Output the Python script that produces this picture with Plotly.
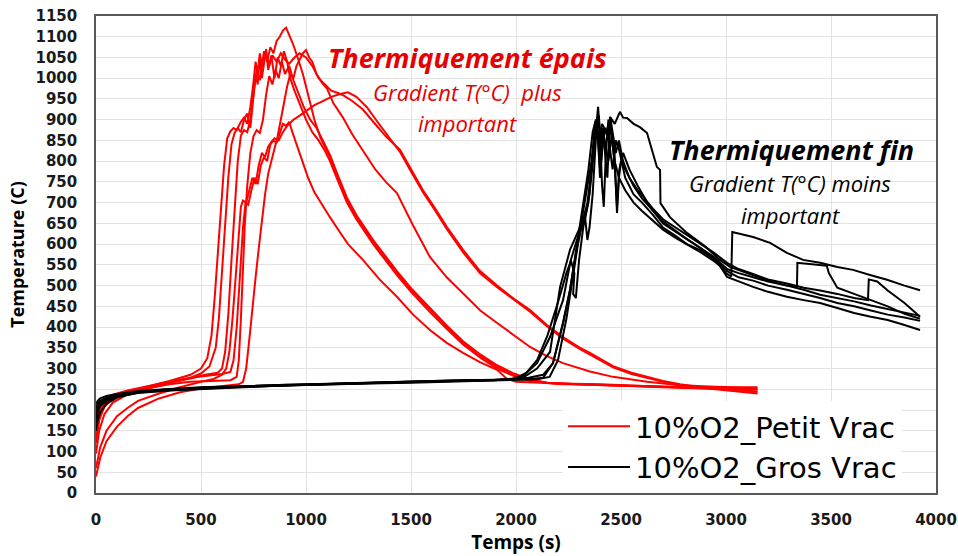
import plotly.graph_objects as go

# ---------------- data ----------------
x_ticks = [0, 500, 1000, 1500, 2000, 2500, 3000, 3500, 4000]
y_ticks = list(range(0, 1151, 50))

series_names = ["10%O2_Petit Vrac", "10%O2_Gros Vrac"]

# Petit Vrac (red) curves: (time s, temperature C)
petit_1 = [(0,120),(15,175),(40,210),(80,232),(150,245),(250,258),(350,270),(450,285),(500,300),(530,325),
           (550,380),(565,470),(580,580),(595,690),(610,790),(625,855),(640,872),(655,880),(670,875),(690,895),
           (705,905),(720,890),(735,930),(750,990),(760,1040),(770,1010),(780,1060),(790,1030),(800,1065),
           (815,1040),(830,1075),(845,1060),(860,1090),(875,1100),(890,1115),(905,1122),(920,1105),(940,1080),
           (960,1050),(985,1010),(1010,960),(1040,900),(1070,855),(1100,825),(1114,810),(1150,760),(1195,706),
           (1240,665),(1271,641),(1320,605),(1380,565),(1433,530),(1500,490),(1590,441),(1670,400),(1748,362),
           (1830,330),(1910,304),(1990,285),(2067,272),(2150,265),(2300,262),(2500,258),(2700,255),(2900,252),
           (3150,250)]
petit_2 = [(0,95),(15,150),(40,190),(80,218),(150,238),(250,252),(350,265),(450,278),(500,288),(540,305),
           (570,350),(585,420),(600,530),(615,650),(630,760),(645,840),(660,868),(675,880),(690,870),(705,900),
           (720,915),(735,880),(750,960),(760,1010),(770,985),(780,1050),(790,1000),(800,1040),(810,1070),
           (820,1020),(835,1055),(850,1000),(865,1050),(880,1030),(895,1065),(910,1040),(925,1000),(945,970),
           (970,940),(1000,900),(1030,870),(1060,850),(1090,825),(1114,800),(1150,755),(1195,700),(1240,660),
           (1271,636),(1320,600),(1380,560),(1433,525),(1500,485),(1590,436),(1670,396),(1748,358),(1830,326),
           (1910,300),(1990,282),(2067,270),(2200,263),(2400,260),(2600,257),(2800,254),(3000,252),(3150,251)]
petit_3 = [(0,150),(15,190),(40,215),(80,232),(150,243),(250,255),(350,266),(450,276),(520,285),(580,290),
           (600,300),(615,340),(630,430),(645,560),(660,690),(675,800),(690,862),(705,875),(720,870),(735,900),
           (750,960),(765,1020),(780,995),(795,1045),(810,1060),(825,1030),(840,1055),(860,1040),(880,1060),
           (900,1045),(920,1035),(945,1050),(970,1060),(1000,1050),(1030,1030),(1060,1000),(1090,985),
           (1120,970),(1150,965),(1180,958),(1220,945),(1270,925),(1320,895),(1380,860),(1448,827),(1500,780),
           (1557,730),(1610,690),(1671,641),(1748,586),(1829,535),(1910,500),(1990,468),(2067,441),(2147,405),
           (2224,376),(2305,350),(2352,338),(2462,306),(2550,290),(2624,280),(2700,270),(2781,262),(2950,250),
           (3150,240)]
petit_4 = [(0,60),(20,110),(50,150),(100,185),(150,205),(200,222),(300,240),(400,255),(500,268),(560,275),
           (600,285),(620,300),(635,340),(650,420),(665,520),(680,620),(690,690),(700,705),(715,700),(730,730),
           (745,760),(760,745),(775,790),(790,820),(805,810),(820,835),(840,850),(860,845),(875,870),(890,890),
           (905,885),(920,895),(935,870),(955,840),(980,800),(1010,760),(1040,725),(1075,695),(1114,665),
           (1160,630),(1200,600),(1271,562),(1350,515),(1433,473),(1510,430),(1590,393),(1670,362),(1748,338),
           (1830,315),(1910,297),(1957,275),(2000,268),(2200,264),(2400,262),(2600,258),(2800,255),(3000,250),
           (3150,245)]
petit_5 = [(0,170),(15,200),(40,222),(80,237),(150,247),(250,258),(350,268),(450,278),(520,283),(600,287),
           (640,292),(655,320),(670,400),(685,520),(700,640),(712,700),(725,695),(740,730),(755,760),(770,745),
           (785,790),(800,810),(815,800),(830,840),(850,855),(870,850),(890,870),(910,885),(940,900),(970,910),
           (1000,920),(1040,935),(1080,945),(1120,955),(1162,962),(1200,966),(1240,955),(1290,930),(1340,895),
           (1400,855),(1448,822),(1500,775),(1557,725),(1610,685),(1671,636),(1748,580),(1829,530),(1910,496),
           (1990,465),(2067,437),(2147,402),(2224,372),(2305,347),(2352,334),(2462,303),(2550,287),(2624,277),
           (2700,268),(2781,260),(2950,252),(3150,244)]
petit_6 = [(0,40),(20,85),(50,125),(100,160),(150,185),(200,205),(300,228),(400,243),(500,252),(600,258),
           (680,262),(700,268),(715,300),(730,370),(745,450),(760,520),(775,590),(790,660),(805,720),(820,770),
           (835,800),(850,830),(865,860),(880,900),(895,940),(910,980),(925,1010),(940,1000),(955,1030),
           (970,1045),(985,1060),(1000,1068),(1015,1050),(1030,1040),(1050,1010),(1075,990),(1100,975),
           (1130,940),(1176,905),(1220,865),(1271,827),(1330,780),(1380,750),(1433,723),(1510,645),(1590,569),
           (1670,520),(1748,482),(1830,440),(1910,410),(1990,380),(2067,352),(2147,330),(2224,313),(2352,293),
           (2462,280),(2624,268),(2781,260),(2950,256),(3148,253)]
petit_7 = [(0,130),(15,180),(40,208),(80,228),(150,241),(250,253),(350,262),(450,268),(550,270),(640,272),
           (670,280),(680,320),(690,420),(698,530),(708,640),(720,740),(735,820),(750,860),(765,875),(780,868),
           (795,900),(810,960),(825,1005),(840,985),(855,1020),(870,1000),(885,1040),(900,1010),(920,1030),
           (940,995),(965,960),(990,930),(1020,900),(1050,880),(1080,850),(1114,815),(1150,768),(1195,712),
           (1240,670),(1271,646),(1320,610),(1380,570),(1433,535),(1500,494),(1590,446),(1670,404),(1748,366),
           (1830,334),(1910,308),(1990,288),(2067,274),(2150,266),(2300,262),(2500,259),(2700,256),(2900,254),
           (3150,255)]

# Gros Vrac (black) curves
gros_1 = [(0,150),(8,175),(20,195),(50,215),(100,230),(200,242),(350,248),(500,252),(700,256),(900,259),
          (1100,262),(1300,264),(1500,267),(1700,270),(1900,272),(1980,275),(2040,285),(2100,313),(2162,376),
          (2224,465),(2260,560),(2290,610),(2329,665),(2350,720),(2367,803),(2386,907),(2391,931),(2400,860),
          (2410,740),(2418,690),(2428,820),(2440,900),(2455,860),(2470,800),(2490,760),(2520,730),(2560,700),
          (2600,680),(2653,655),(2700,635),(2760,615),(2814,600),(2880,580),(2940,560),(2971,548),(3005,521),
          (3060,510),(3129,497),(3200,485),(3290,473),(3370,465),(3448,458),(3530,446),(3610,434),(3690,425),
          (3770,417),(3850,405),(3924,393)]
gros_2 = [(0,205),(8,215),(20,222),(50,230),(100,236),(200,244),(350,250),(500,254),(700,257),(900,261),
          (1100,263),(1300,266),(1500,268),(1700,271),(1900,273),(1990,274),(2050,290),(2100,320),(2150,380),
          (2200,460),(2240,530),(2262,560),(2278,530),(2272,480),(2285,470),(2300,560),(2320,640),(2345,700),
          (2360,790),(2372,870),(2382,900),(2392,840),(2400,760),(2410,830),(2425,880),(2440,850),(2448,907),
          (2460,850),(2470,790),(2481,690),(2492,780),(2510,820),(2540,780),(2580,740),(2620,705),(2653,680),
          (2700,655),(2760,632),(2814,612),(2880,590),(2940,565),(3000,530),(3025,522),(3030,629),(3060,625),
          (3129,617),(3210,603),(3290,579),(3367,562),(3448,555),(3530,545),(3605,538),(3690,525),(3767,514),
          (3850,500),(3924,489)]
gros_3 = [(0,185),(8,205),(20,215),(50,226),(100,234),(200,243),(350,249),(500,253),(700,257),(900,260),
          (1100,262),(1300,265),(1500,268),(1700,270),(1950,273),(2060,278),(2129,285),(2176,313),(2224,410),
          (2257,489),(2290,600),(2320,690),(2345,780),(2365,870),(2380,900),(2395,850),(2410,890),(2430,870),
          (2450,905),(2470,890),(2495,919),(2510,905),(2528,904),(2560,890),(2590,882),(2624,868),(2638,843),
          (2671,786),(2686,779),(2688,699),(2733,665),(2814,627),(2900,595),(2971,562),(3019,545),(3100,530),
          (3200,512),(3290,500),(3370,490),(3448,478),(3530,470),(3610,462),(3690,452),(3770,443),(3850,435),
          (3924,427)]
gros_4 = [(0,200),(8,212),(20,220),(50,228),(100,235),(200,243),(350,250),(500,254),(700,256),(900,260),
          (1100,263),(1300,265),(1500,267),(1700,270),(1900,272),(2060,274),(2129,278),(2176,313),(2224,410),
          (2257,489),(2280,560),(2300,620),(2320,680),(2340,730),(2360,800),(2375,860),(2385,895),(2395,820),
          (2403,760),(2412,880),(2425,840),(2440,800),(2455,860),(2468,830),(2481,675),(2490,760),(2500,800),
          (2520,780),(2560,740),(2600,710),(2653,680),(2700,650),(2760,630),(2814,612),(2880,590),(2940,570),
          (3005,540),(3060,530),(3129,520),(3200,510),(3290,500),(3338,497),(3340,555),(3400,552),(3480,548),
          (3490,530),(3530,495),(3610,480),(3690,465),(3770,450),(3850,432),(3924,420)]
gros_5 = [(0,170),(8,195),(20,210),(50,222),(100,232),(200,241),(350,247),(500,251),(700,255),(900,259),
          (1100,262),(1300,264),(1500,266),(1700,269),(1900,271),(2100,274),(2160,280),(2200,320),(2240,420),
          (2270,520),(2295,600),(2320,660),(2340,700),(2355,760),(2370,830),(2380,880),(2390,870),(2400,800),
          (2410,880),(2420,840),(2435,760),(2448,907),(2460,870),(2475,820),(2490,850),(2510,800),(2540,760),
          (2580,730),(2620,705),(2653,685),(2700,660),(2760,640),(2814,620),(2880,600),(2940,580),(3005,555),
          (3060,540),(3129,528),(3200,515),(3290,505),(3370,495),(3448,488),(3530,480),(3610,470),(3676,465),
          (3680,515),(3720,510),(3770,488),(3850,458),(3924,425)]
gros_6 = [(0,215),(8,222),(20,228),(50,234),(100,239),(200,246),(350,251),(500,255),(700,258),(900,261),
          (1100,264),(1300,266),(1500,269),(1700,271),(1900,273),(2000,276),(2040,280),(2100,300),(2162,340),
          (2210,497),(2257,586),(2305,641),(2329,665),(2340,610),(2350,640),(2365,720),(2380,850),(2395,910),
          (2405,800),(2420,880),(2440,860),(2460,780),(2475,850),(2490,830),(2520,760),(2560,720),(2600,700),
          (2653,670),(2700,640),(2760,620),(2814,600),(2880,585),(2940,565),(3005,535),(3060,520),(3129,512),
          (3200,500),(3290,490),(3370,480),(3448,470),(3530,458),(3610,450),(3690,440),(3770,430),(3850,423),
          (3924,415)]

petit_curves = [petit_1, petit_2, petit_3, petit_4, petit_5, petit_6, petit_7]
gros_curves = [gros_1, gros_2, gros_3, gros_4, gros_5, gros_6]

RED = "#ff0000"
BLACK = "#000000"

fig = go.Figure()
for curves, name, color, grp in [(petit_curves, series_names[0], RED, "petit"),
                                  (gros_curves, series_names[1], BLACK, "gros")]:
    for i, c in enumerate(curves):
        fig.add_trace(go.Scatter(
            x=[p[0] for p in c], y=[p[1] for p in c],
            mode="lines", name=name, legendgroup=grp, showlegend=(i == 0),
            line=dict(color=color, width=2),
        ))

tick_font = dict(family="DejaVu Sans", size=15, color="#1a1a1a", weight="bold")

fig.update_layout(
    width=958, height=556,
    margin=dict(l=96, r=22, t=16, b=63, autoexpand=False),
    paper_bgcolor="white", plot_bgcolor="white",
    font=dict(family="Open Sans", color="#000000"),
    showlegend=True,
    legend=dict(
        x=0.556, y=0.0, xanchor="left", yanchor="bottom",
        bgcolor="white", borderwidth=0,
        font=dict(family="DejaVu Sans", size=29, color="#000000"),
        itemwidth=62, tracegroupgap=0,
    ),
    xaxis=dict(
        range=[0, 4000], tickvals=x_ticks, ticktext=[str(v) for v in x_ticks],
        showgrid=True, gridcolor="#e3e3e3", gridwidth=1, zeroline=False,
        showline=True, mirror=True, linecolor="#595959", linewidth=1.5,
        ticks="", tickfont=tick_font, ticklabelstandoff=12, ticklabeloverflow="allow",
        automargin=False,
        title=dict(text="Temps (s)", font=dict(family="Open Sans", size=19, weight="bold"), standoff=6),
    ),
    yaxis=dict(
        range=[0, 1150], tickvals=y_ticks, ticktext=[str(v) for v in y_ticks],
        showgrid=True, gridcolor="#e3e3e3", gridwidth=1, zeroline=False,
        showline=True, mirror=True, linecolor="#595959", linewidth=1.5,
        ticks="", tickfont=tick_font, ticklabelstandoff=14, ticklabeloverflow="allow",
        automargin=False,
        title=dict(text="Temperature (C)", font=dict(family="Open Sans", size=18, weight="bold"), standoff=6),
    ),
)

RED_TXT = "#e60000"
ann = [
    ("Thermiquement épais", 1771, 1049, 27, RED_TXT, "bold"),
    ("Gradient T(°C) \u00a0plus", 1771, 967, 22, RED_TXT, "normal"),
    ("important", 1767, 892, 22, RED_TXT, "normal"),
    ("Thermiquement fin", 3310, 828, 27, BLACK, "bold"),
    ("Gradient T(°C) moins", 3305, 747, 22, BLACK, "normal"),
    ("important", 3305, 671, 22, BLACK, "normal"),
]
for text, ax, ay, size, col, w in ann:
    fig.add_annotation(x=ax, y=ay, xref="x", yref="y", text=text, showarrow=False,
                       xanchor="center", yanchor="middle",
                       font=dict(family="Open Sans", size=size, color=col, style="italic", weight=w))

# remove the browser's default 8px page margin so the figure fills the window exactly
fig.write_html("out.html", config={"displayModeBar": False},
               post_script="document.body.style.margin='0px';document.body.style.overflow='hidden';")
